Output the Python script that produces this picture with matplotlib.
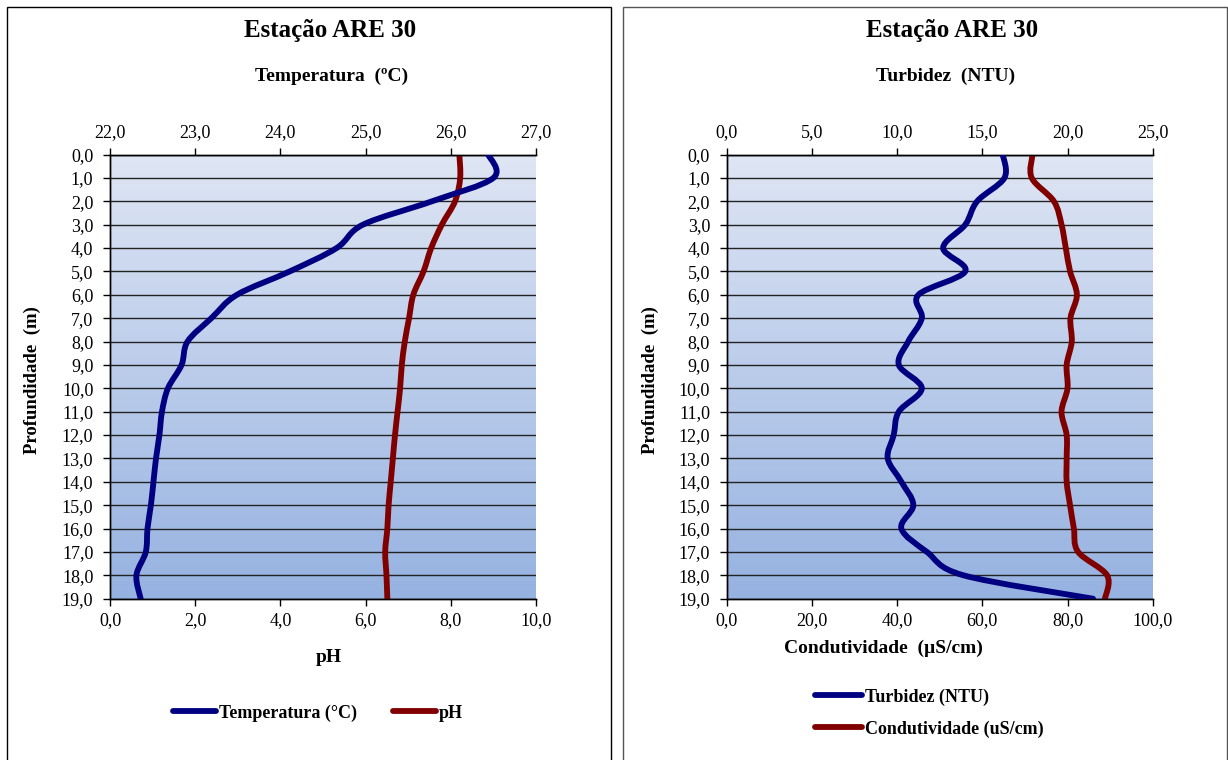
import numpy as np
import matplotlib.pyplot as plt
from matplotlib.path import Path
from matplotlib.patches import PathPatch, Rectangle
from matplotlib.lines import Line2D
from matplotlib.ticker import FuncFormatter, MultipleLocator

plt.rcParams['font.family'] = ['Liberation Serif', 'DejaVu Serif']

# perfil vertical, estação ARE 30
profundidade = list(range(20))
temperatura = [26.44, 26.50, 25.78, 24.97, 24.66, 24.11, 23.49, 23.19, 22.91, 22.84,
               22.68, 22.61, 22.58, 22.54, 22.51, 22.48, 22.44, 22.42, 22.31, 22.36]
ph = [8.20, 8.22, 8.10, 7.79, 7.54, 7.36, 7.12, 7.02, 6.92, 6.85,
      6.81, 6.75, 6.69, 6.64, 6.59, 6.54, 6.51, 6.46, 6.49, 6.51]
turbidez = [16.2, 16.3, 14.7, 14.0, 12.7, 14.0, 11.25, 11.45, 10.65, 10.1,
            11.45, 10.1, 9.8, 9.45, 10.25, 10.95, 10.25, 11.75, 13.9, 21.5]
condutividade = [71.8, 71.6, 76.8, 78.6, 79.6, 80.6, 82.2, 80.7, 81.0, 79.8,
                 80.0, 78.6, 79.8, 79.8, 79.8, 80.6, 81.5, 82.5, 89.3, 88.8]

AZUL = '#000080'
VERMELHO = '#800000'
W, H = 1228, 760

virgula = FuncFormatter(lambda v, p: f"{v:.1f}".replace('.', ','))


def curva(xs, ys):
    """Caminho suavizado (Bezier) passando pelos pontos, como linha suave do Excel"""
    pts = np.column_stack([xs, ys]).astype(float)
    n = len(pts)
    verts = [pts[0]]
    codes = [Path.MOVETO]
    for i in range(n - 1):
        p0 = pts[i - 1] if i > 0 else pts[i]
        p1, p2 = pts[i], pts[i + 1]
        p3 = pts[i + 2] if i + 2 < n else pts[i + 1]
        verts += [p1 + (p2 - p0) / 6, p2 - (p3 - p1) / 6, p2]
        codes += [Path.CURVE4] * 3
    return Path(verts, codes)


def painel(x0, top_lim, top_step, bot_lim, bot_step):
    ax = fig.add_axes([x0 / W, 161.3 / H, 426 / W, 444.2 / H])
    ax.set_facecolor('none')
    grad = np.linspace(0, 1, 256).reshape(-1, 1)
    ax.imshow(grad, cmap=plt.matplotlib.colors.LinearSegmentedColormap.from_list(
        'fundo', ['#dfe6f4', '#96b2e1']), extent=[0, 1, 0, 1],
        transform=ax.transAxes, aspect='auto', zorder=0)
    ax.set_ylim(19, 0)
    ax.set_xlim(*bot_lim)
    ax.yaxis.set_major_locator(MultipleLocator(1))
    ax.xaxis.set_major_locator(MultipleLocator(bot_step))
    ax.xaxis.set_major_formatter(virgula)
    ax.yaxis.set_major_formatter(virgula)
    ax.grid(axis='y', color='#222222', linewidth=1.0, zorder=1)
    ax.set_axisbelow(False)
    ax.tick_params(direction='out', length=5, width=1, labelsize=13, color='black')
    ax.tick_params(axis='y', pad=7)
    ax.tick_params(axis='x', pad=5)

    tw = ax.twiny()
    tw.set_xlim(*top_lim)
    tw.xaxis.set_major_locator(MultipleLocator(top_step))
    tw.xaxis.set_major_formatter(virgula)
    tw.tick_params(direction='out', length=5, width=1, labelsize=13, pad=5)
    for a in (ax, tw):
        a.spines['right'].set_visible(False)
        for s in ('left', 'top', 'bottom'):
            a.spines[s].set_linewidth(1.0)
            a.spines[s].set_color('black')
    return ax, tw


fig = plt.figure(figsize=(12.28, 7.6), dpi=100)

# molduras dos dois gráficos
fig.patches.append(Rectangle((7 / W, -0.05), 604 / W, 1.05 - 7 / H, transform=fig.transFigure,
                             fill=False, edgecolor='black', linewidth=1.0))
fig.patches.append(Rectangle((623 / W, -0.05), 604 / W, 1.05 - 7 / H, transform=fig.transFigure,
                             fill=False, edgecolor='#555555', linewidth=1.0))

# gráfico da esquerda: temperatura e pH
ax1, tw1 = painel(110, (22, 27), 1, (0, 10), 2)
ax1.add_patch(PathPatch(curva(ph, profundidade), fill=False, edgecolor=VERMELHO,
                        linewidth=4.2, capstyle='round', joinstyle='round', zorder=3))
tw1.add_patch(PathPatch(curva(temperatura, profundidade), fill=False, edgecolor=AZUL,
                        linewidth=4.2, capstyle='round', joinstyle='round', zorder=3))

# gráfico da direita: turbidez e condutividade
ax2, tw2 = painel(726.7, (0, 25), 5, (0, 100), 20)
ax2.add_patch(PathPatch(curva(condutividade, profundidade), fill=False, edgecolor=VERMELHO,
                        linewidth=4.2, capstyle='round', joinstyle='round', zorder=3))
tw2.add_patch(PathPatch(curva(turbidez, profundidade), fill=False, edgecolor=AZUL,
                        linewidth=4.2, capstyle='round', joinstyle='round', zorder=3))


def texto(x, y, s, size=11, **kw):
    fig.text(x / W, 1 - y / H, s, ha='center', va='center', fontsize=size,
             fontweight='bold', **kw)


texto(330, 30, 'Estação ARE 30', 18)
texto(332, 76, 'Temperatura  (ºC)', 14)
texto(329, 658, 'pH', 14)
texto(32, 380, 'Profundidade  (m)', 13.5, rotation=90)

texto(952, 30, 'Estação ARE 30', 18)
texto(946, 76, 'Turbidez  (NTU)', 14)
texto(883, 648, 'Condutividade  (µS/cm)', 14)
texto(650, 380, 'Profundidade  (m)', 13.5, rotation=90)

h_azul = Line2D([], [], color=AZUL, linewidth=4.2, solid_capstyle='round')
h_verm = Line2D([], [], color=VERMELHO, linewidth=4.2, solid_capstyle='round')

fig.legend([h_azul, h_verm], ['Temperatura (°C)', 'pH'], loc='center',
           bbox_to_anchor=(318 / W, 1 - 713 / H), ncol=2, frameon=False,
           handlelength=2.4, handletextpad=0.15, columnspacing=2.0,
           prop={'size': 13, 'weight': 'bold'})
fig.legend([h_azul, h_verm], ['Turbidez (NTU)', 'Condutividade (uS/cm)'], loc='center',
           bbox_to_anchor=(929 / W, 1 - 713 / H), ncol=1, frameon=False,
           handlelength=2.6, handletextpad=0.15, labelspacing=0.8,
           prop={'size': 13, 'weight': 'bold'})

fig.savefig('out.png', dpi=100)
